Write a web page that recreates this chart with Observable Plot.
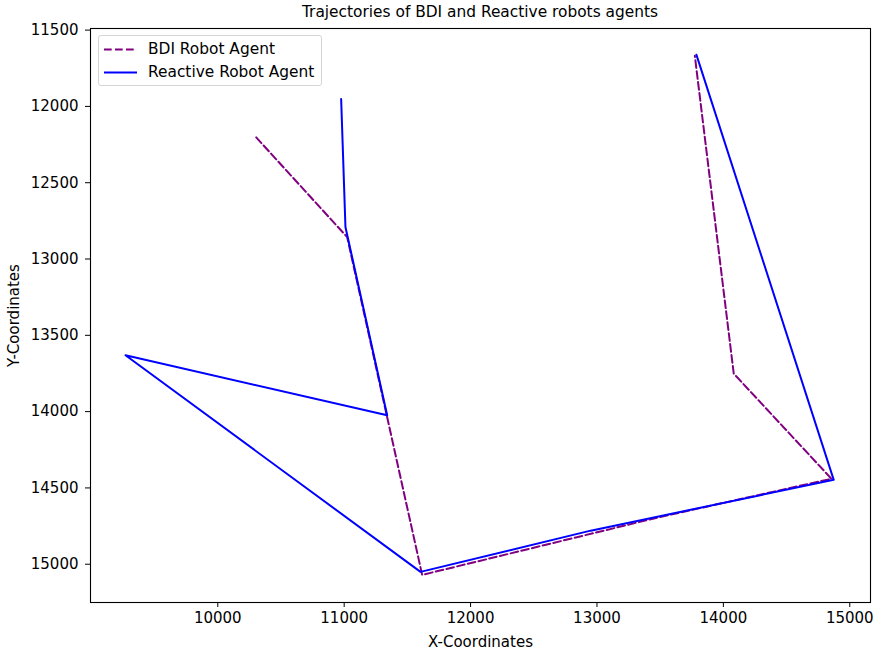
<!DOCTYPE html>
<html><head><meta charset="utf-8">
<script src="https://cdn.jsdelivr.net/npm/d3@7"></script>
<script src="https://cdn.jsdelivr.net/npm/@observablehq/plot@0.6"></script>
<style>
body{margin:0;background:#fff;}
#wrap{position:relative;width:878px;height:651px;font-family:"DejaVu Sans",sans-serif;color:#000;}
#title{position:absolute;left:90px;width:780px;top:3px;text-align:center;font-size:15.4px;}
#legend{position:absolute;left:98px;top:35px;width:224px;height:51px;border:1px solid #d5d5d5;border-radius:3px;background:rgba(255,255,255,0.8);box-sizing:border-box;}
.row{position:absolute;left:0;height:20px;font-size:15.4px;line-height:20px;white-space:nowrap;}
.row svg{position:absolute;left:4px;top:0;}
.row span{position:absolute;left:49px;top:0;}
</style></head><body><div id="wrap"></div>
<script>
const seriesNames = ["BDI Robot Agent", "Reactive Robot Agent"];
const seriesColors = ["#800080", "#0000ff"];
const bdiX = [10304, 11024, 11617, 13450, 14855, 14082, 13774];
const bdiY = [12203, 12857, 15070, 14700, 14440, 13751, 11668];
const reactiveX = [10976, 11010, 11340, 9270, 11604, 12950, 14873, 13787];
const reactiveY = [11952, 12790, 14024, 13631, 15050, 14780, 14447, 11662];
const xTicks = [10000, 11000, 12000, 13000, 14000, 15000];
const yTicks = [11500, 12000, 12500, 13000, 13500, 14000, 14500, 15000];
const xDomain = [8993, 15164];
const yDomain = [11489.5, 15250.8];

const bdi = bdiX.map((x, i) => ({x, y: bdiY[i]}));
const reactive = reactiveX.map((x, i) => ({x, y: reactiveY[i]}));

const plot = Plot.plot({
  width: 878,
  height: 651,
  marginLeft: 90,
  marginRight: 8,
  marginTop: 28,
  marginBottom: 49,
  style: {fontFamily: "DejaVu Sans, sans-serif", fontSize: "15px", background: "white", color: "black"},
  x: {domain: xDomain},
  y: {domain: yDomain, reverse: true},
  marks: [
    Plot.axisX(xTicks, {tickSize: 5, tickPadding: 5, tickFormat: d3.format("d"), fontSize: 15,
      label: "X-Coordinates", labelAnchor: "center", labelArrow: "none", labelOffset: 44}),
    Plot.axisY(yTicks, {tickSize: 5, tickPadding: 7, tickFormat: d3.format("d"), fontSize: 15,
      label: "Y-Coordinates", labelAnchor: "center", labelArrow: "none", labelOffset: 82}),
    Plot.line(bdi, {x: "x", y: "y", stroke: seriesColors[0], strokeWidth: 2, strokeDasharray: "7.7,3.3", curve: "linear"}),
    Plot.line(reactive, {x: "x", y: "y", stroke: seriesColors[1], strokeWidth: 2, curve: "linear"}),
    Plot.frame({stroke: "black", strokeWidth: 1.1})
  ]
});

const wrap = document.getElementById("wrap");
wrap.appendChild(plot);
const title = document.createElement("div");
title.id = "title";
title.textContent = "Trajectories of BDI and Reactive robots agents";
wrap.appendChild(title);

const legend = document.createElement("div");
legend.id = "legend";
seriesNames.forEach((name, i) => {
  const row = document.createElement("div");
  row.className = "row";
  row.style.top = (3 + i * 23.3) + "px";
  const dash = i === 0 ? 'stroke-dasharray="7.7,3.3"' : '';
  row.innerHTML = `<svg width="36" height="20"><line x1="1" x2="34" y1="10.5" y2="10.5" stroke="${seriesColors[i]}" stroke-width="2" ${dash}/></svg><span>${name}</span>`;
  legend.appendChild(row);
});
wrap.appendChild(legend);
</script>
</body></html>
